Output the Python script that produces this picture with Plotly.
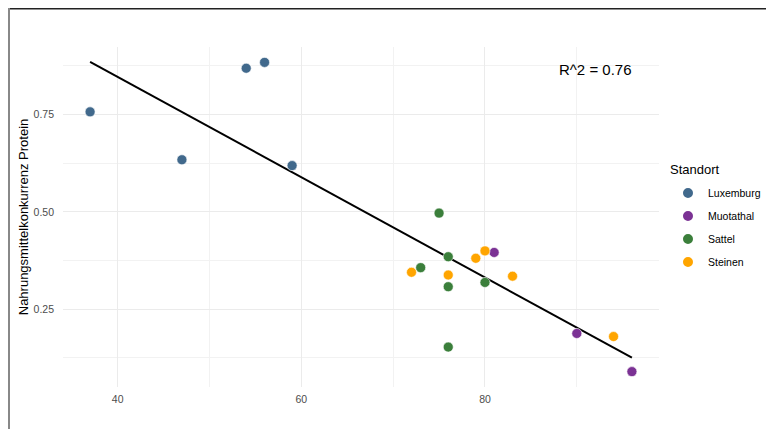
import numpy as np
import plotly.graph_objects as go

# ---- data ----
standorte = ["Luxemburg", "Muotathal", "Sattel", "Steinen"]
lux_x = [37, 47, 54, 56, 59]
lux_y = [0.757, 0.634, 0.869, 0.884, 0.619]
muo_x = [81, 90, 96]
muo_y = [0.396, 0.188, 0.090]
sat_x = [75, 76, 73, 76, 80, 76]
sat_y = [0.497, 0.385, 0.357, 0.308, 0.319, 0.153]
ste_x = [80, 79, 72, 76, 83, 94]
ste_y = [0.400, 0.381, 0.345, 0.338, 0.335, 0.180]
r2_label = "R^2 = 0.76"
legend_title = "Standort"
x_ticks = [40, 60, 80]
y_ticks = [0.25, 0.50, 0.75]

colors = ["#41698C", "#7B3294", "#3B7F3B", "#FFA500"]
groups = [(lux_x, lux_y), (muo_x, muo_y), (sat_x, sat_y), (ste_x, ste_y)]

FONT = "Liberation Sans, Arial, sans-serif"

fig = go.Figure()

# regression line from data
all_x = np.array(lux_x + muo_x + sat_x + ste_x, dtype=float)
all_y = np.array(lux_y + muo_y + sat_y + ste_y, dtype=float)
slope, intercept = np.polyfit(all_x, all_y, 1)
lx = np.array([all_x.min(), all_x.max()])
fig.add_trace(go.Scatter(x=lx, y=slope * lx + intercept, mode="lines",
                         line=dict(color="black", width=2), showlegend=False,
                         hoverinfo="skip"))

for name, (gx, gy), c in zip(standorte, groups, colors):
    fig.add_trace(go.Scatter(x=gx, y=gy, mode="markers", name=name,
                             legendgroup=name,
                             marker=dict(color=c, size=10, line=dict(width=0.6, color="white"))))

# page has 8px body margin; figure drawn at (8, 8)
OFF = 8
W, H = 766, 421
L, T, B = 55, 39, 42
R = W - 651
pw = W - L - R
ph = H - T - B

def px2paper_x(px):
    return (px - L) / pw

def py2paper_y(py):
    return (H - B - py) / ph

fig.add_annotation(x=92.0, y=0.866, xref="x", yref="y", text=r2_label,
                   showarrow=False, font=dict(family=FONT, size=15, color="black"))

fig.add_annotation(x=px2paper_x(668 - OFF), y=py2paper_y(169 - OFF), xref="paper", yref="paper",
                   xanchor="left", yanchor="middle", text=legend_title, showarrow=False,
                   font=dict(family=FONT, size=13, color="black"))

fig.update_layout(
    width=W, height=H,
    margin=dict(l=L, r=R, t=T, b=B, autoexpand=False),
    paper_bgcolor="white", plot_bgcolor="white",
    font=dict(family=FONT),
    xaxis=dict(range=[34.05, 98.95], tickvals=x_ticks, showline=False, zeroline=False,
               showgrid=True, gridcolor="#EBEBEB", gridwidth=1.1,
               minor=dict(dtick=10, tick0=0, showgrid=True, gridcolor="#F2F2F2", gridwidth=0.6),
               tickfont=dict(family=FONT, size=10.5, color="#4D4D4D"), ticks="",
               ticklabelstandoff=4),
    yaxis=dict(range=[0.0505, 0.9235], tickvals=y_ticks, ticktext=["0.25", "0.50", "0.75"],
               showline=False, zeroline=False,
               showgrid=True, gridcolor="#EBEBEB", gridwidth=1.1,
               minor=dict(dtick=0.125, tick0=0, showgrid=True, gridcolor="#F2F2F2", gridwidth=0.6),
               tickfont=dict(family=FONT, size=10.5, color="#4D4D4D"), ticks="",
               ticklabelstandoff=8,
               title=dict(text="Nahrungsmittelkonkurrenz Protein",
                          font=dict(family=FONT, size=13, color="black"), standoff=2)),
    legend=dict(font=dict(family=FONT, size=10.5, color="black"),
                x=(668 - OFF) / W, xanchor="left", xref="container",
                y=1 - (178.5 - OFF) / H, yanchor="top", yref="container",
                tracegroupgap=4, itemsizing="constant", bgcolor="rgba(0,0,0,0)"),
    shapes=[
        dict(type="line", xref="paper", yref="paper",
             x0=px2paper_x(0), x1=px2paper_x(W), y0=py2paper_y(0.75), y1=py2paper_y(0.75),
             line=dict(color="#222222", width=1.5)),
        dict(type="line", xref="paper", yref="paper",
             x0=px2paper_x(1), x1=px2paper_x(1), y0=py2paper_y(0), y1=py2paper_y(H),
             line=dict(color="#888888", width=2)),
    ],
)

fig.write_html("out.html")
